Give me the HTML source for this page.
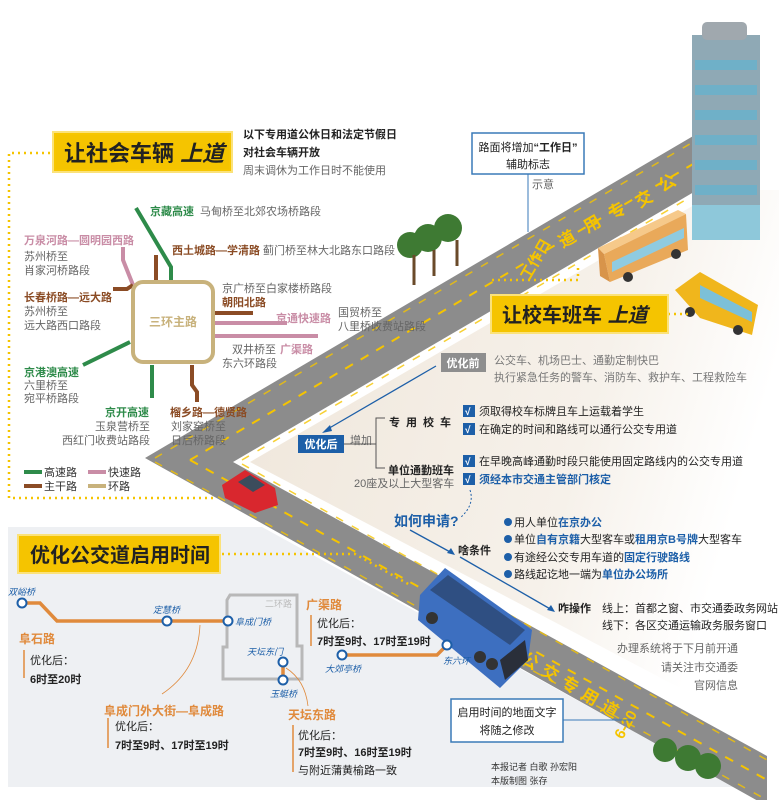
<!DOCTYPE html>
<html><head><meta charset="utf-8"><style>
html,body{margin:0;padding:0;background:#fff}
svg{display:block}
text{font-family:"Liberation Sans","Noto Sans CJK SC",sans-serif}
.b{font-weight:bold}
.g{fill:#666;font-size:11px}
.s{font-size:11px;fill:#333}
</style></head><body>
<svg width="779" height="800" viewBox="0 0 779 800" xmlns="http://www.w3.org/2000/svg">
<defs>
<linearGradient id="bg1" x1="0" y1="0" x2="1" y2="0.3">
<stop offset="0" stop-color="#efe6da"/><stop offset="0.7" stop-color="#f6f1ea"/><stop offset="1" stop-color="#ffffff"/>
</linearGradient>
</defs>
<polygon points="250,462 720,190 779,190 779,740" fill="url(#bg1)"/>
<polygon points="8,527 262,527 735,787 8,787" fill="#eef0f3"/>
<polygon points="145,458 700,132 740,132 740,165 233,462 767,756 767,806 145,458" fill="#8c8c8c"/>
<polygon points="700,132 700,190 740,165 740,132" fill="#8c8c8c"/>
<polyline points="190,460 705,157" stroke="#f5c400" stroke-width="2" stroke-dasharray="9,9" fill="none"/>
<polyline points="190,460 767,780" stroke="#f5c400" stroke-width="2" stroke-dasharray="9,9" fill="none"/>
<polyline points="155,458 700,138" stroke="#f5c400" stroke-width="1.5" stroke-dasharray="8,10" fill="none" opacity="0.8"/>
<polyline points="242,460 740,168" stroke="#f5c400" stroke-width="1.5" stroke-dasharray="8,10" fill="none" opacity="0.8"/>
<polyline points="155,462 767,800" stroke="#f5c400" stroke-width="1.5" stroke-dasharray="8,10" fill="none" opacity="0.8"/>
<polyline points="242,464 767,760" stroke="#f5c400" stroke-width="1.5" stroke-dasharray="8,10" fill="none" opacity="0.8"/>
<!-- road text -->
<g fill="#f5c400" font-weight="bold" font-size="17" text-anchor="middle">
<text transform="translate(670,188) rotate(-30)">公</text>
<text transform="translate(647,204) rotate(-30)">交</text>
<text transform="translate(620,216) rotate(-30)">专</text>
<text transform="translate(595,229) rotate(-30)">用</text>
<text transform="translate(570,244) rotate(-30)">道</text>
<text transform="translate(540,262) rotate(-60)" font-size="15">工作日</text>
<text transform="translate(527,666) rotate(30)">公</text>
<text transform="translate(547,678) rotate(30)">交</text>
<text transform="translate(567,690) rotate(30)">专</text>
<text transform="translate(587,702) rotate(30)">用</text>
<text transform="translate(607,714) rotate(30)">道</text>
<text transform="translate(630,727) rotate(-60)" font-size="15">6-20</text>
</g>
<!-- building -->
<rect x="692" y="35" width="68" height="205" fill="#8fa9b5"/>
<g fill="#6fb0c8">
<rect x="695" y="60" width="62" height="10"/><rect x="695" y="85" width="62" height="10"/><rect x="695" y="110" width="62" height="10"/><rect x="695" y="135" width="62" height="10"/><rect x="695" y="160" width="62" height="10"/><rect x="695" y="185" width="62" height="10"/>
</g>
<rect x="692" y="205" width="68" height="35" fill="#8ec8da"/>
<rect x="702" y="22" width="45" height="18" rx="5" fill="#a0a8ae"/>
<!-- trees -->
<g fill="#3e7a33">
<circle cx="410" cy="245" r="13"/><circle cx="428" cy="238" r="14"/><circle cx="448" cy="228" r="14"/>
</g>
<g stroke="#6a4a2a" stroke-width="3"><line x1="414" y1="255" x2="414" y2="285"/><line x1="434" y1="250" x2="434" y2="276"/><line x1="457" y1="240" x2="457" y2="266"/></g>
<g fill="#3e7a33"><circle cx="665" cy="750" r="12"/><circle cx="688" cy="758" r="13"/><circle cx="708" cy="766" r="13"/></g>
<!-- yellow bus 1 -->
<polygon points="598,248 678,210 686,214 604,254" fill="#f6c98a"/>
<polygon points="604,254 686,214 688,250 610,282" fill="#e9a95a"/>
<polygon points="612,262 684,228 684,238 612,272" fill="#8fcbe0"/>
<polygon points="598,248 604,254 610,282 600,276" fill="#d8944a"/>
<circle cx="628" cy="277" r="5" fill="#333"/><circle cx="676" cy="254" r="5" fill="#333"/>
<!-- school bus 2 -->
<polygon points="675,290 700,272 758,305 752,335 700,318" fill="#f0b61c"/>
<polygon points="700,285 752,312 752,322 700,298" fill="#7cc0d8"/>
<circle cx="690" cy="312" r="5" fill="#333"/><circle cx="738" cy="330" r="5" fill="#333"/>
<!-- car -->
<polygon points="222,485 245,470 275,488 278,505 255,513 225,498" fill="#d9272e"/>
<polygon points="238,482 250,475 265,485 253,492" fill="#3c4c5c"/>
<!-- blue bus -->
<polygon points="420,595 445,568 532,630 528,660 500,688 418,620" fill="#3d6fc0"/>
<polygon points="430,590 448,575 525,630 510,645" fill="#2f4f82"/>
<polygon points="500,660 525,640 528,660 505,680" fill="#2a2f3a"/>
<circle cx="432" cy="618" r="6" fill="#333"/><circle cx="480" cy="657" r="6" fill="#333"/><circle cx="492" cy="664" r="6" fill="#333"/>

<polyline points="50,153 9,153 9,498 215,498" fill="none" stroke="#f5c400" stroke-width="2.5" stroke-dasharray="2,4"/>
<rect x="53" y="132" width="179" height="40" fill="#f7c600" stroke="#fbe27a" stroke-width="2"/>
<rect x="56" y="135" width="173" height="34" fill="#f5c400"/>
<text x="64" y="161" font-size="22" class="b" fill="#222">让社会车辆 <tspan font-style="italic">上道</tspan></text>
<text x="243" y="138" font-size="11" class="b" fill="#222">以下专用道公休日和法定节假日</text>
<text x="243" y="156" font-size="11" class="b" fill="#222">对社会车辆开放</text>
<text x="243" y="174" class="g">周末调休为工作日时不能使用</text>

<g fill="none" stroke-width="4">
<polyline points="136,208 171,267 171,282" stroke="#2e8b4a"/>
<polyline points="156,255 156,282" stroke="#8b4c25"/>
<polyline points="123,247 123,260 133,285" stroke="#c98da6"/>
<polyline points="113,289 127,289 133,285" stroke="#8b4c25"/>
<polyline points="215,313 253,313" stroke="#8b4c25"/>
<polyline points="215,323 287,323" stroke="#c98da6"/>
<polyline points="215,336 318,336" stroke="#c98da6"/>
<polyline points="130,342 83,365" stroke="#2e8b4a"/>
<polyline points="152,365 152,398" stroke="#2e8b4a"/>
<polyline points="192,365 192,385 197,392 197,402" stroke="#8b4c25"/>
<rect x="133" y="282" width="80" height="80" rx="10" stroke="#c8b27c" fill="#fff"/>
</g>
<text x="173" y="326" text-anchor="middle" font-size="12" class="b" fill="#c8b27c">三环主路</text>
<g font-size="11" class="b">
<text x="150" y="215" fill="#2e8b4a">京藏高速</text>
<text x="24" y="244" fill="#c98da6">万泉河路—圆明园西路</text>
<text x="172" y="254" fill="#8b4c25">西土城路—学清路</text>
<text x="24" y="301" fill="#8b4c25">长春桥路—远大路</text>
<text x="222" y="306" fill="#8b4c25">朝阳北路</text>
<text x="276" y="322" fill="#c98da6">京通快速路</text>
<text x="280" y="353" fill="#c98da6">广渠路</text>
<text x="24" y="376" fill="#2e8b4a">京港澳高速</text>
<text x="105" y="416" fill="#2e8b4a">京开高速</text>
<text x="170" y="416" fill="#8b4c25">榴乡路—德贤路</text>
</g>
<g class="g" font-size="10">
<text x="200" y="215">马甸桥至北郊农场桥路段</text>
<text x="24" y="260">苏州桥至</text><text x="24" y="274">肖家河桥路段</text>
<text x="263" y="254">蓟门桥至林大北路东口路段</text>
<text x="24" y="315">苏州桥至</text><text x="24" y="329">远大路西口路段</text>
<text x="222" y="292">京广桥至白家楼桥路段</text>
<text x="338" y="316">国贸桥至</text><text x="338" y="330">八里桥收费站路段</text>
<text x="232" y="353">双井桥至</text><text x="222" y="367">东六环路段</text>
<text x="24" y="389">六里桥至</text><text x="24" y="402">宛平桥路段</text>
<text x="95" y="430">玉泉营桥至</text><text x="62" y="444">西红门收费站路段</text>
<text x="171" y="430">刘家窑桥至</text><text x="171" y="444">日后桥路段</text>
</g>
<g stroke-width="4">
<line x1="24" y1="472" x2="42" y2="472" stroke="#2e8b4a"/><line x1="88" y1="472" x2="106" y2="472" stroke="#c98da6"/>
<line x1="24" y1="486" x2="42" y2="486" stroke="#8b4c25"/><line x1="88" y1="486" x2="106" y2="486" stroke="#c8b27c"/>
</g>
<g class="s" font-size="10"><text x="44" y="476">高速路</text><text x="108" y="476">快速路</text><text x="44" y="490">主干路</text><text x="108" y="490">环路</text></g>

<rect x="472" y="133" width="112" height="41" fill="#fff" stroke="#3a7ab8" stroke-width="1.5"/>
<text x="528" y="151" text-anchor="middle" font-size="11" fill="#222">路面将增加<tspan class="b">“工作日”</tspan></text>
<text x="528" y="168" text-anchor="middle" font-size="11" fill="#222">辅助标志</text>
<line x1="528" y1="174" x2="528" y2="232" stroke="#3a7ab8" stroke-width="1"/>
<text x="532" y="188" class="g" font-size="9">示意</text>
<polyline points="578,268 578,280 491,280" stroke="#f5c400" stroke-width="2.5" stroke-dasharray="2,4" fill="none"/>
<line x1="668" y1="314" x2="690" y2="314" stroke="#f5c400" stroke-width="2.5" stroke-dasharray="2,4"/>
<rect x="491" y="295" width="177" height="38" fill="#f5c400" stroke="#fbe27a" stroke-width="2"/>
<text x="502" y="322" font-size="20" class="b" fill="#222">让校车班车 <tspan font-style="italic">上道</tspan></text>

<rect x="441" y="353" width="45" height="19" fill="#8e8e8e"/>
<text x="463" y="367" text-anchor="middle" font-size="11" class="b" fill="#fff">优化前</text>
<text x="494" y="364" font-size="11" fill="#777">公交车、机场巴士、通勤定制快巴</text>
<text x="494" y="381" font-size="11" fill="#777">执行紧急任务的警车、消防车、救护车、工程救险车</text>
<line x1="436" y1="366" x2="326" y2="430" stroke="#1d5fa8" stroke-width="1.3"/>
<polygon points="322,433 330,425 332,431" fill="#1d5fa8"/>
<rect x="298" y="435" width="46" height="18" fill="#1d5fa8"/>
<text x="321" y="448" text-anchor="middle" font-size="11" class="b" fill="#fff">优化后</text>
<text x="350" y="444" class="g" font-size="9">增加</text>
<polyline points="344,444 376,444" stroke="#555" fill="none"/>
<polyline points="385,418 376,418 376,468 385,468" stroke="#555" fill="none"/>
<text x="389" y="426" font-size="11" class="b" fill="#222" letter-spacing="6">专用校车</text>
<text x="388" y="474" font-size="11" class="b" fill="#222">单位通勤班车</text>
<text x="354" y="487" class="g" font-size="10">20座及以上大型客车</text>
<g fill="#1d5fa8"><rect x="463" y="405" width="12" height="12"/><rect x="463" y="423" width="12" height="12"/><rect x="463" y="455" width="12" height="12"/><rect x="463" y="473" width="12" height="12"/></g>
<g fill="#fff" font-size="10" class="b"><text x="465" y="415">√</text><text x="465" y="433">√</text><text x="465" y="465">√</text><text x="465" y="483">√</text></g>
<g font-size="11" fill="#222">
<text x="479" y="415">须取得校车标牌且车上运载着学生</text>
<text x="479" y="433">在确定的时间和路线可以通行公交专用道</text>
<text x="479" y="465">在早晚高峰通勤时段只能使用固定路线内的公交专用道</text>
<text x="479" y="483" fill="#1d5fa8" class="b">须经本市交通主管部门核定</text>
</g>
<path d="M470,490 Q475,505 460,518" stroke="#1d5fa8" fill="none" stroke-dasharray="2,2"/>
<text x="394" y="526" font-size="14" class="b" fill="#1d5fa8">如何申请?</text>
<line x1="410" y1="530" x2="452" y2="553" stroke="#1d5fa8" stroke-width="1.3"/>
<line x1="460" y1="557" x2="552" y2="610" stroke="#1d5fa8" stroke-width="1.3"/>
<polygon points="455,555 447,553 451,548" fill="#1d5fa8"/>
<polygon points="555,612 547,610 551,605" fill="#1d5fa8"/>
<text x="458" y="554" font-size="11" class="b" fill="#222">啥条件</text>
<g fill="#1d5fa8"><circle cx="508" cy="522" r="4"/><circle cx="508" cy="539" r="4"/><circle cx="508" cy="557" r="4"/><circle cx="508" cy="574" r="4"/></g>
<g font-size="11" fill="#222">
<text x="514" y="526">用人单位<tspan fill="#1d5fa8" class="b">在京办公</tspan></text>
<text x="514" y="543">单位<tspan fill="#1d5fa8" class="b">自有京籍</tspan>大型客车或<tspan fill="#1d5fa8" class="b">租用京B号牌</tspan>大型客车</text>
<text x="514" y="561">有途经公交专用车道的<tspan fill="#1d5fa8" class="b">固定行驶路线</tspan></text>
<text x="514" y="578">路线起讫地一端为<tspan fill="#1d5fa8" class="b">单位办公场所</tspan></text>
<text x="558" y="612" class="b">咋操作</text>
<text x="602" y="612">线上：首都之窗、市交通委政务网站</text>
<text x="602" y="629">线下：各区交通运输政务服务窗口</text>
</g>
<g class="g" font-size="10" text-anchor="end">
<text x="738" y="652">办理系统将于下月前开通</text>
<text x="738" y="671">请关注市交通委</text>
<text x="738" y="689">官网信息</text>
</g>
<rect x="451" y="699" width="112" height="43" fill="#fff" stroke="#3a7ab8" stroke-width="1.5"/>
<text x="507" y="716" text-anchor="middle" font-size="11" fill="#222">启用时间的地面文字</text>
<text x="507" y="734" text-anchor="middle" font-size="11" fill="#222">将随之修改</text>
<line x1="563" y1="720" x2="632" y2="720" stroke="#3a7ab8"/>
<text x="491" y="770" font-size="9" fill="#333">本报记者  白歌  孙宏阳</text>
<text x="491" y="784" font-size="9" fill="#333">本版制图  张存</text>

<polyline points="222,554 355,554 410,585" stroke="#f5c400" stroke-width="2.5" stroke-dasharray="2,4" fill="none"/>
<rect x="18" y="535" width="202" height="38" fill="#f5c400" stroke="#fbe27a" stroke-width="2"/>
<text x="30" y="562" font-size="20" class="b" fill="#222">优化公交道启用时间</text>
<polygon points="227,600 230,595 297,595 297,646 302,646 302,679 223,679 223,647 227,647" fill="none" stroke="#b8b8b8" stroke-width="3"/>
<text x="265" y="607" font-size="9" fill="#bbb">二环路</text>
<polyline points="22,603 40,603 57,621 228,621" fill="none" stroke="#e08a3c" stroke-width="3.5"/>
<line x1="283" y1="662" x2="283" y2="680" stroke="#e08a3c" stroke-width="3.5"/>
<polyline points="342,655 437,655 447,645" fill="none" stroke="#e08a3c" stroke-width="3.5"/>
<g fill="#fff" stroke="#1d5fa8" stroke-width="2">
<circle cx="22" cy="603" r="4.5"/><circle cx="167" cy="621" r="4.5"/><circle cx="228" cy="621" r="4.5"/>
<circle cx="283" cy="662" r="4.5"/><circle cx="283" cy="680" r="4.5"/><circle cx="342" cy="655" r="4.5"/><circle cx="447" cy="645" r="4.5"/>
</g>
<g font-size="9" fill="#1d5fa8" font-style="italic">
<text x="8" y="595">双峪桥</text><text x="153" y="613">定慧桥</text><text x="235" y="625">阜成门桥</text>
<text x="247" y="655">天坛东门</text><text x="270" y="697">玉蜓桥</text><text x="325" y="672">大郊亭桥</text><text x="443" y="664">东六环</text>
</g>
<path d="M200,625 Q198,670 162,694" stroke="#e08a3c" fill="none" stroke-width="0.8"/>
<path d="M286,668 Q305,680 308,706" stroke="#e08a3c" fill="none" stroke-width="0.8"/>
<g fill="#e08a3c" font-size="12" class="b">
<text x="306" y="609">广渠路</text><text x="19" y="643">阜石路</text><text x="104" y="715">阜成门外大街—阜成路</text><text x="288" y="719">天坛东路</text>
</g>
<g stroke="#e08a3c" stroke-width="1.5">
<line x1="311" y1="615" x2="311" y2="646"/><line x1="24" y1="650" x2="24" y2="678"/><line x1="108" y1="718" x2="108" y2="748"/><line x1="293" y1="725" x2="293" y2="772"/>
</g>
<g font-size="11" fill="#222">
<text x="317" y="627">优化后：</text><text x="317" y="645" class="b">7时至9时、17时至19时</text>
<text x="30" y="664">优化后：</text><text x="30" y="683" class="b">6时至20时</text>
<text x="115" y="730">优化后：</text><text x="115" y="749" class="b">7时至9时、17时至19时</text>
<text x="298" y="739">优化后：</text><text x="298" y="756" class="b">7时至9时、16时至19时</text><text x="298" y="774">与附近蒲黄榆路一致</text>
</g>
</svg>
</body></html>
